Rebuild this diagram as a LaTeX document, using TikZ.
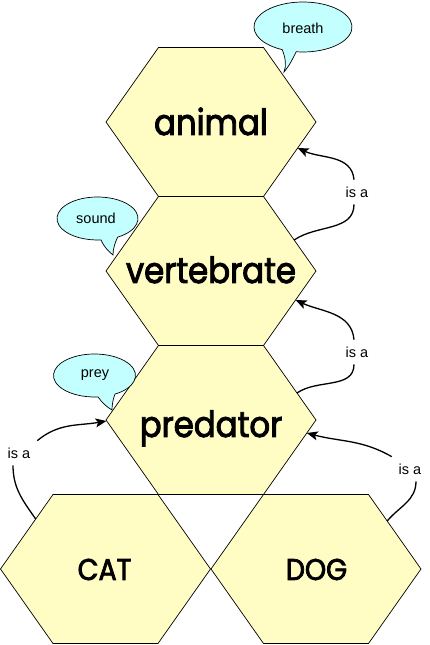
\documentclass[tikz,border=0pt]{standalone}
\usepackage{fontspec}
\setmainfont{Liberation Sans}
\newfontfamily\hexfont{Poppins}[FakeStretch=0.9, FakeBold=2.5]
\usetikzlibrary{arrows.meta}
\definecolor{hexfill}{RGB}{255,253,196}
\definecolor{bubfill}{RGB}{196,255,255}
\begin{document}
\begin{tikzpicture}[x=1pt,y=1pt,
  hexshape/.style={draw=black, line width=0.7pt, fill=hexfill, line join=miter},
  hexlabel/.style={font=\hexfont\fontsize{36pt}{40pt}\selectfont, anchor=base, inner sep=0pt},
  smalllabel/.style={font=\hexfont\fontsize{30pt}{34pt}\selectfont, anchor=base, inner sep=0pt},
  bubble/.style={draw=black, line width=0.7pt, fill=bubfill},
  bubtext/.style={font=\fontsize{14.5pt}{17pt}\selectfont, inner sep=0pt},
  isalabel/.style={font=\fontsize{14.5pt}{17pt}\selectfont, inner sep=3pt, outer sep=4pt},
  isaline/.style={line width=1.3pt, black},
  isaarrow/.style={isaline, -{Stealth[length=11pt,width=9pt,inset=2.5pt]}},
  hexpic/.pic={\path[hexshape] (105,0) -- (52.5,74.5) -- (-52.5,74.5) -- (-105,0) -- (-52.5,-74.5) -- (52.5,-74.5) -- cycle;}
]
\useasboundingbox (0,0) rectangle (429,645);

% hexagons
\pic at (211,523) {hexpic};
\pic at (211,374) {hexpic};
\pic at (211,225) {hexpic};
\pic at (105.5,76) {hexpic};
\pic at (316,76) {hexpic};

\node[hexlabel] (animal) at (211,510) {animal};
\node[hexlabel] (vertebrate) at (211,362) {vertebrate};
\node[hexlabel] (predator) at (211,208) {predator};
\node[smalllabel] (cat) at (104.5,65) {CAT};
\node[smalllabel] (dog) at (316.5,65) {DOG};

% bubbles
\coordinate (breathtip) at (284,573);
\path[bubble] ([shift={(303,618)}]262:49 and 25)
  arc[start angle=262, end angle=605, x radius=49, y radius=25]
  .. controls (285,588) and (287,580) .. (breathtip)
  .. controls (290,580) and (293,587) .. ([shift={(303,618)}]262:49 and 25) -- cycle;
\node[bubtext] (breath) at (303,617) {breath};

\coordinate (soundtip) at (113,390);
\path[bubble] ([shift={(97.5,426.5)}]300:40.5 and 21.5)
  arc[start angle=300, end angle=635, x radius=40.5, y radius=21.5]
  .. controls (104,398) and (109,393) .. (soundtip)
  .. controls (113,396) and (115,403) .. ([shift={(97.5,426.5)}]300:40.5 and 21.5) -- cycle;
\node[bubtext] (sound) at (96,426.5) {sound};

\coordinate (preytip) at (112,235);
\path[bubble] ([shift={(94.5,269.5)}]300:41 and 21.5)
  arc[start angle=300, end angle=635, x radius=41, y radius=21.5]
  .. controls (102,242) and (107,238) .. (preytip)
  .. controls (112,240) and (113,246) .. ([shift={(94.5,269.5)}]300:41 and 21.5) -- cycle;
\node[bubtext] (prey) at (95,269.5) {prey};

% is-a connectors
\coordinate (s1) at (294.2,405);
\coordinate (e1) at (297.7,497);
\coordinate (s2) at (297,252);
\coordinate (e2) at (295.6,345);
\coordinate (s3) at (35.7,126);
\coordinate (e3) at (106.5,224);
\coordinate (s4) at (387.2,124);
\coordinate (e4) at (306.8,212);

\node[isalabel] (l1) at (357,453) {is a};
\node[isalabel] (l2) at (357,293) {is a};
\node[isalabel] (l3) at (19,192) {is a};
\node[isalabel] (l4) at (410,176) {is a};

\draw[isaline] (s1) to[out=35,in=-90] ([xshift=-3pt]l1.south);
\draw[isaarrow] ([xshift=-3pt]l1.north) to[out=95,in=-25] (e1);
\draw[isaline] (s2) to[out=35,in=-90] ([xshift=-3pt]l2.south);
\draw[isaarrow] ([xshift=-3pt]l2.north) to[out=95,in=-25] (e2);
\draw[isaline] (s3) to[out=125,in=-90] ([xshift=-6pt]l3.south);
\draw[isaarrow] (l3.north east) to[out=40,in=190] (e3);
\draw[isaline] (s4) to[out=50,in=-90] ([xshift=6pt]l4.south);
\draw[isaarrow] (l4.north west) to[out=150,in=-15] (e4);
\end{tikzpicture}
\end{document}
